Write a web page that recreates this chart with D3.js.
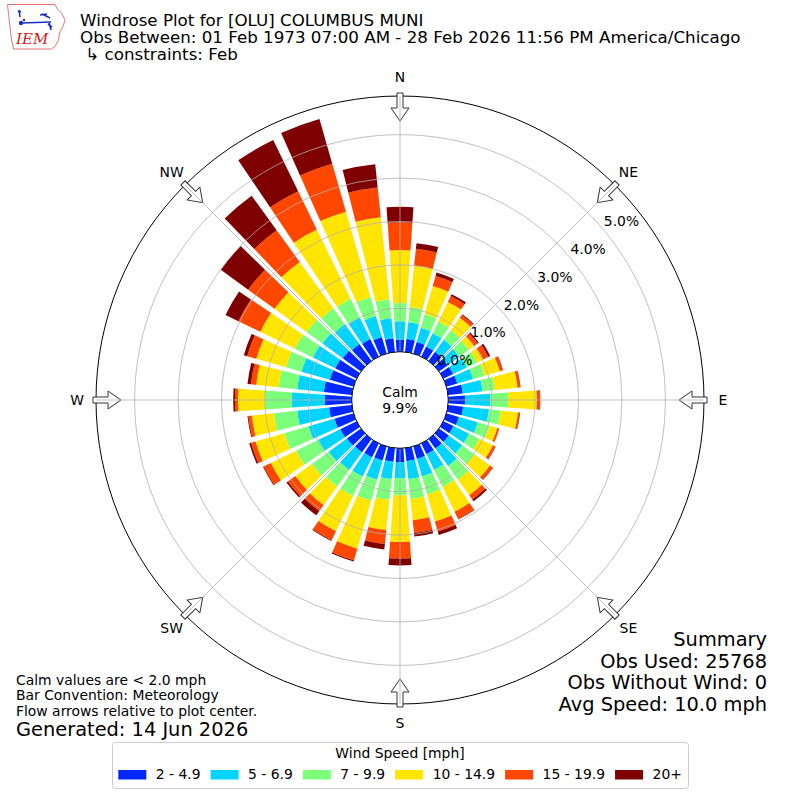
<!DOCTYPE html>
<html lang="en">
<head>
<meta charset="UTF-8">
<title>Windrose Plot for [OLU] COLUMBUS MUNI</title>
<style>
  body { margin: 0; background: #fff; }
  svg text { font-family: "DejaVu Sans", sans-serif; fill: #000; }
</style>
</head>
<body>
<div id="windrose"></div>
<script src="https://d3js.org/d3.v7.min.js"></script>
<script>
// wind direction of each bar, degrees (meteorological, from)
var directions = [0, 10, 20, 30, 40, 50, 60, 70, 80, 90, 100, 110,
                  120, 130, 140, 150, 160, 170, 180, 190, 200, 210, 220, 230,
                  240, 250, 260, 270, 280, 290, 300, 310, 320, 330, 340, 350];

var speedBins = ["2 - 4.9", "5 - 6.9", "7 - 9.9", "10 - 14.9", "15 - 19.9", "20+"];
var binColors = ["#0028ff", "#00d4ff", "#7cff7a", "#ffe500", "#ff4700", "#7f0000"];

// percent of observations in each speed bin, per direction
var pct2to5 = [0.28,0.30,0.28,0.26,0.26,0.25,0.25,0.26,0.34,0.39,0.35,0.30,
               0.26,0.28,0.27,0.28,0.30,0.30,0.32,0.32,0.34,0.36,0.38,0.40,
               0.42,0.46,0.53,0.62,0.65,0.57,0.55,0.52,0.48,0.45,0.40,0.32];
var pct5to7 = [0.42,0.39,0.34,0.34,0.34,0.33,0.35,0.38,0.46,0.58,0.60,0.45,
               0.40,0.38,0.50,0.40,0.42,0.42,0.37,0.40,0.46,0.49,0.50,0.52,
               0.56,0.62,0.74,0.76,0.62,0.68,0.57,0.58,0.57,0.55,0.50,0.46];
var pct7to10 = [0.42,0.35,0.33,0.30,0.28,0.27,0.26,0.28,0.28,0.41,0.27,0.28,
                0.26,0.35,0.38,0.44,0.43,0.46,0.39,0.48,0.50,0.50,0.47,0.48,
                0.57,0.58,0.54,0.62,0.43,0.37,0.46,0.45,0.45,0.48,0.45,0.44];
var pct10to15 = [1.22,0.96,0.67,0.50,0.35,0.15,0.16,0.36,0.53,0.66,0.40,0.19,
                 0.35,0.44,0.45,0.63,0.65,0.49,1.08,0.70,1.15,0.90,0.53,0.47,
                 0.65,0.69,0.51,0.62,0.52,0.71,0.89,0.91,1.32,1.78,2.05,1.90];
var pct15to20 = [0.64,0.39,0.24,0.15,0.08,0.10,0.13,0.07,0.06,0.07,0.04,0.05,
                 0.06,0.08,0.12,0.19,0.24,0.30,0.38,0.32,0.28,0.23,0.17,0.21,
                 0.18,0.11,0.08,0.07,0.12,0.22,0.56,0.75,0.90,0.98,1.15,0.69];
var pct20plus = [0.36,0.13,0.08,0.05,0.02,0.03,0.05,0.01,0.01,0.01,0.01,0.00,
                 0.01,0.01,0.05,0.01,0.08,0.08,0.16,0.13,0.03,0.02,0.12,0.04,
                 0.02,0.04,0.02,0.04,0.08,0.08,0.33,0.78,0.98,1.31,1.07,0.54];

var radialTicks = [0, 1, 2, 3, 4, 5];
var compassLabels = ["N", "NE", "E", "SE", "S", "SW", "W", "NW"];
var compassAngles = [0, 45, 90, 135, 180, 225, 270, 315];
var calmPct = "9.9%";

var width = 800, height = 800,
    cx = 400, cy = 400,
    innerR = 48.3, outerR = 304,
    barWidth = 8; // degrees

var fs = "13.9px"; // 10pt
var rad = Math.PI / 180;

var svg = d3.select("#windrose")
  .append("svg")
    .attr("width", width)
    .attr("height", height);

var r = d3.scaleLinear()
  .domain([0, 5.89])
  .range([innerR, outerR]);

var keys = ["b0", "b1", "b2", "b3", "b4", "b5"];
var series = [pct2to5, pct5to7, pct7to10, pct10to15, pct15to20, pct20plus];
var rows = directions.map(function (dir, i) {
  var row = {dir: dir};
  keys.forEach(function (k, j) { row[k] = series[j][i]; });
  return row;
});

var stacked = d3.stack().keys(keys)(rows);

var rose = svg.append("g")
  .attr("transform", "translate(" + cx + "," + cy + ")");

var arc = d3.arc()
  .innerRadius(function (d) { return r(d[0]); })
  .outerRadius(function (d) { return r(d[1]); })
  .startAngle(function (d) { return (d.data.dir - barWidth / 2) * rad; })
  .endAngle(function (d) { return (d.data.dir + barWidth / 2) * rad; });

rose.selectAll("g.bin")
  .data(stacked)
  .enter().append("g")
    .attr("class", "bin")
    .attr("fill", function (d, i) { return binColors[i]; })
  .selectAll("path")
  .data(function (d) { return d; })
  .enter().append("path")
    .attr("d", arc);

// outer frame
rose.append("circle")
  .attr("r", outerR)
  .attr("fill", "none")
  .attr("stroke", "#000")
  .attr("stroke-width", 1);

// flow arrows
rose.selectAll("path.arrow")
  .data(compassAngles)
  .enter().append("path")
    .attr("class", "arrow")
    .attr("d", "M-3,-307L3,-307L3,-292L9,-292L0,-279L-9,-292L-3,-292Z")
    .attr("transform", function (d) { return "rotate(" + d + ")"; })
    .attr("fill", "#fff")
    .attr("stroke", "#333")
    .attr("stroke-width", 1);

// grid on top of the bars
rose.selectAll("circle.ring")
  .data(radialTicks.slice(1))
  .enter().append("circle")
    .attr("class", "ring")
    .attr("r", function (d) { return r(d); })
    .attr("fill", "none")
    .attr("stroke", "#b0b0b0")
    .attr("stroke-width", 0.8);

rose.selectAll("line.spoke")
  .data(compassAngles)
  .enter().append("line")
    .attr("class", "spoke")
    .attr("x1", function (d) { return innerR * Math.sin(d * rad); })
    .attr("y1", function (d) { return -innerR * Math.cos(d * rad); })
    .attr("x2", function (d) { return outerR * Math.sin(d * rad); })
    .attr("y2", function (d) { return -outerR * Math.cos(d * rad); })
    .attr("stroke", "#b0b0b0")
    .attr("stroke-width", 0.8);

// calm circle
rose.append("circle")
  .attr("r", innerR)
  .attr("fill", "#fff")
  .attr("stroke", "#000")
  .attr("stroke-width", 1);

rose.append("text")
  .attr("y", -8)
  .attr("text-anchor", "middle")
  .attr("dominant-baseline", "central")
  .style("font-size", fs)
  .text("Calm");
rose.append("text")
  .attr("y", 7.5)
  .attr("text-anchor", "middle")
  .attr("dominant-baseline", "central")
  .style("font-size", fs)
  .text(calmPct);

// compass labels
rose.selectAll("text.compass")
  .data(compassLabels)
  .enter().append("text")
    .attr("class", "compass")
    .attr("x", function (d, i) { return 323 * Math.sin(compassAngles[i] * rad); })
    .attr("y", function (d, i) { return -323 * Math.cos(compassAngles[i] * rad); })
    .attr("text-anchor", "middle")
    .attr("dominant-baseline", "central")
    .style("font-size", fs)
    .text(function (d) { return d; });

// radial tick labels
var labelAngle = 50.2 * rad;
rose.selectAll("text.rtick")
  .data(radialTicks)
  .enter().append("text")
    .attr("class", "rtick")
    .attr("x", function (d) { return r(d) * Math.sin(labelAngle); })
    .attr("y", function (d) { return -r(d) * Math.cos(labelAngle) - 4; })
    .style("font-size", fs)
    .text(function (d) { return d.toFixed(1) + "%"; });

// titles
var titles = ["Windrose Plot for [OLU] COLUMBUS MUNI",
              "Obs Between: 01 Feb 1973 07:00 AM - 28 Feb 2026 11:56 PM America/Chicago",
              " \u21b3 constraints: Feb"];
svg.selectAll("text.title")
  .data(titles)
  .enter().append("text")
    .attr("class", "title")
    .attr("x", 80)
    .attr("y", function (d, i) { return 26 + i * 17.2; })
    .attr("xml:space", "preserve")
    .style("white-space", "pre")
    .style("font-size", "16.7px")
    .text(function (d) { return d; });

// IEM logo
var logo = svg.append("g");
logo.append("path")
  .attr("d", "M7.5,4.5L55,4.5L57,8.5L61.5,13L65,20L63,26.5L60,31.5L58.5,40L55,46.5L51.5,49L13.5,49L11.5,40L10,27L8.5,14Z")
  .attr("fill", "none")
  .attr("stroke", "#e05050")
  .attr("stroke-width", 0.8);
logo.append("path")
  .attr("d", "M19,10L20,17M18,11L21,12M22,23L51,22M42,14L50,18M40,15L47,14M49,22L51,30M48,24L52,27")
  .attr("fill", "none")
  .attr("stroke", "#1a2fd0")
  .attr("stroke-width", 1.6);
logo.append("circle").attr("cx", 21).attr("cy", 23).attr("r", 2.2).attr("fill", "#1a2fd0");
logo.append("circle").attr("cx", 24).attr("cy", 20).attr("r", 1.2).attr("fill", "#1a2fd0");
logo.append("text")
  .attr("x", 16)
  .attr("y", 44)
  .style("font-family", "'DejaVu Serif', 'Liberation Serif', serif")
  .style("font-style", "italic")
  .style("font-size", "15px")
  .style("fill", "#d02020")
  .text("IEM");

// bottom-left notes
var notes = ["Calm values are < 2.0 mph", "Bar Convention: Meteorology",
             "Flow arrows relative to plot center."];
svg.selectAll("text.note")
  .data(notes)
  .enter().append("text")
    .attr("class", "note")
    .attr("x", 16)
    .attr("y", function (d, i) { return 684.5 + i * 15.6; })
    .style("font-size", fs)
    .text(function (d) { return d; });
svg.append("text")
  .attr("x", 16)
  .attr("y", 736)
  .style("font-size", "19.4px")
  .text("Generated: 14 Jun 2026");

// summary
var summary = ["Summary", "Obs Used: 25768", "Obs Without Wind: 0", "Avg Speed: 10.0 mph"];
svg.selectAll("text.summary")
  .data(summary)
  .enter().append("text")
    .attr("class", "summary")
    .attr("x", 767)
    .attr("y", function (d, i) { return 646 + i * 21.7; })
    .attr("text-anchor", "end")
    .style("font-size", "19.4px")
    .text(function (d) { return d; });

// legend
var legend = svg.append("g");
legend.append("rect")
  .attr("x", 112.5).attr("y", 742.5)
  .attr("width", 576).attr("height", 46)
  .attr("rx", 3)
  .attr("fill", "#fff")
  .attr("stroke", "#cccccc")
  .attr("stroke-width", 1);
legend.append("text")
  .attr("x", 400).attr("y", 758)
  .attr("text-anchor", "middle")
  .style("font-size", fs)
  .text("Wind Speed [mph]");

var lx = 118.3;
speedBins.forEach(function (label, i) {
  legend.append("rect")
    .attr("x", lx).attr("y", 770)
    .attr("width", 28).attr("height", 9.5)
    .attr("fill", binColors[i]);
  var t = legend.append("text")
    .attr("x", lx + 37.5).attr("y", 779)
    .style("font-size", fs)
    .text(label);
  lx += 37.5 + t.node().getComputedTextLength() + 10;
});
</script>
</body>
</html>
